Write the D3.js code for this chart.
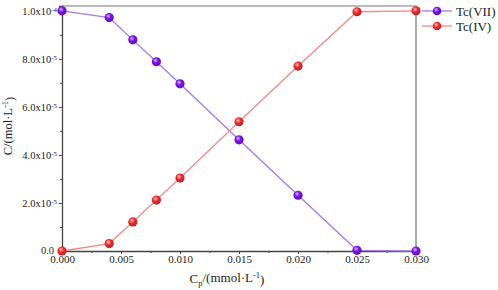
<!DOCTYPE html>
<html>
<head>
<meta charset="utf-8">
<script src="https://cdn.jsdelivr.net/npm/d3@7"></script>
<style>
  body { margin: 0; background: #fff; }
  svg text { font-family: "Liberation Serif", "DejaVu Serif", serif; }
</style>
</head>
<body>
<div id="chart"></div>
<script>
const width = 498;
const height = 290;
const margin = { top: 6, right: 82, bottom: 39, left: 62 };

/* DATA */
const cp = [0.000, 0.004, 0.006, 0.008, 0.010, 0.015, 0.020, 0.025, 0.030];
const tcVII = [1.0e-4, 0.972e-4, 0.879e-4, 0.788e-4, 0.696e-4, 0.463e-4, 0.232e-4, 0.003e-4, 0.0];
const tcIV = [0.0, 0.031e-4, 0.121e-4, 0.212e-4, 0.304e-4, 0.538e-4, 0.770e-4, 0.996e-4, 1.0e-4];
const xTicks = [0, 0.005, 0.010, 0.015, 0.020, 0.025, 0.030];
const yTicks = [0, 2e-5, 4e-5, 6e-5, 8e-5, 1e-4];
const yTickMantissa = ["0.0", "2.0", "4.0", "6.0", "8.0", "1.0"];
const yTickExp = ["", "-5", "-5", "-5", "-5", "-4"];

const series = [
  { name: "Tc(VII)", values: tcVII, dot: "#7a10e8", light: "#d9b8ff", line: "#a57be6" },
  { name: "Tc(IV)", values: tcIV, dot: "#ee2a2a", light: "#ffc4c4", line: "#f28a8a" }
];

// + SCALES
const xScale = d3.scaleLinear()
  .domain([0, 0.030])
  .range([margin.left, width - margin.right]);

const yScale = d3.scaleLinear()
  .domain([0, 1.02e-4])
  .range([height - margin.bottom, margin.top]);

const svg = d3.select("#chart")
  .append("svg")
  .attr("width", width)
  .attr("height", height);

// sphere gradients
const defs = svg.append("defs");
series.forEach((s, i) => {
  const g = defs.append("radialGradient")
    .attr("id", "ball" + i)
    .attr("cx", "40%").attr("cy", "35%").attr("r", "65%");
  g.append("stop").attr("offset", "0%").attr("stop-color", s.light);
  g.append("stop").attr("offset", "45%").attr("stop-color", s.dot);
  g.append("stop").attr("offset", "100%").attr("stop-color", d3.color(s.dot).darker(0.6));
});

// frame (top and right)
svg.append("path")
  .attr("d", `M${xScale(0)},${yScale.range()[1]}H${xScale(0.030)}V${yScale(0)}`)
  .attr("fill", "none")
  .attr("stroke", "#777")
  .attr("stroke-width", 1.2);

// + AXES
const xAxis = d3.axisBottom(xScale)
  .tickValues(xTicks)
  .tickSize(3)
  .tickPadding(1)
  .tickFormat(d3.format(".3f"));

const xMinor = d3.axisBottom(xScale)
  .tickValues(d3.range(0.0025, 0.030, 0.005))
  .tickSize(2)
  .tickFormat("");

const gx = svg.append("g")
  .attr("transform", `translate(0, ${height - margin.bottom})`)
  .call(xAxis)
  .attr("font-size", 11);
svg.append("g")
  .attr("transform", `translate(0, ${height - margin.bottom})`)
  .call(xMinor)
  .call(g => g.select(".domain").remove());

const yAxis = d3.axisLeft(yScale)
  .tickValues(yTicks)
  .tickSize(3)
  .tickFormat("");

const yMinor = d3.axisLeft(yScale)
  .tickValues(d3.range(1e-5, 1e-4, 2e-5))
  .tickSize(2)
  .tickFormat("");

const gy = svg.append("g")
  .attr("transform", `translate(${margin.left}, 0)`)
  .call(yAxis);
svg.append("g")
  .attr("transform", `translate(${margin.left}, 0)`)
  .call(yMinor)
  .call(g => g.select(".domain").remove());

[gx, gy].forEach(g => {
  g.select(".domain").attr("stroke", "#444").attr("stroke-width", 1.3);
});
svg.selectAll(".tick line").attr("stroke", "#444");
gx.selectAll(".tick text").attr("fill", "#222");

// y tick labels with superscript exponents
gy.selectAll(".tick").each(function(d, i) {
  const t = d3.select(this).append("text")
    .attr("x", -5)
    .attr("dy", "0.35em")
    .attr("text-anchor", "end")
    .attr("fill", "#222")
    .attr("font-size", 10.5);
  if (yTickExp[i] === "") {
    t.attr("x", -8).attr("dy", "0.2em").text(yTickMantissa[i]);
  } else {
    t.append("tspan").text(yTickMantissa[i] + "x10");
    t.append("tspan").attr("dy", "-0.45em").attr("font-size", 7).text(yTickExp[i]);
  }
});

// axis titles
const xTitle = svg.append("text")
  .attr("x", 227)
  .attr("y", 283)
  .attr("text-anchor", "middle")
  .attr("font-size", 13)
  .attr("fill", "#222");
xTitle.append("tspan").text("C");
xTitle.append("tspan").attr("font-size", 8.5).attr("dy", "0.3em").text("p");
xTitle.append("tspan").attr("dy", "-0.3em").text("/(mmol·L");
xTitle.append("tspan").attr("font-size", 8.5).attr("dy", "-0.45em").text("-1");
xTitle.append("tspan").attr("dy", "0.45em").text(")");

const yTitle = svg.append("text")
  .attr("transform", `translate(12, 126) rotate(-90)`)
  .attr("text-anchor", "middle")
  .attr("font-size", 12.5)
  .attr("fill", "#222");
yTitle.append("tspan").text("C/(mol·L");
yTitle.append("tspan").attr("font-size", 8.5).attr("dy", "-0.45em").text("-1");
yTitle.append("tspan").attr("dy", "0.45em").text(")");

// + LINES AND MARKERS
const line = d3.line()
  .x((d, i) => xScale(cp[i]))
  .y(d => yScale(d));

series.forEach((s, si) => {
  svg.append("path")
    .datum(s.values)
    .attr("fill", "none")
    .attr("stroke", s.line)
    .attr("stroke-width", 1.3)
    .attr("d", line);
});
series.forEach((s, si) => {
  svg.selectAll("circle.s" + si)
    .data(s.values)
    .join("circle")
    .attr("class", "s" + si)
    .attr("cx", (d, i) => xScale(cp[i]))
    .attr("cy", d => yScale(d))
    .attr("r", 4.6)
    .attr("fill", `url(#ball${si})`);
});

// + LEGEND
const legend = svg.append("g")
  .attr("transform", `translate(${width - margin.right + 6}, 11)`);
series.forEach((s, i) => {
  const row = legend.append("g").attr("transform", `translate(0, ${i * 15})`);
  row.append("line")
    .attr("x1", 0).attr("x2", 30)
    .attr("stroke", s.line).attr("stroke-width", 1.3);
  row.append("circle")
    .attr("cx", 15).attr("r", 4.3)
    .attr("fill", `url(#ball${i})`);
  row.append("text")
    .attr("x", 34)
    .attr("dy", "0.35em")
    .attr("font-size", 13)
    .attr("fill", "#222")
    .text(s.name);
});
</script>
</body>
</html>
